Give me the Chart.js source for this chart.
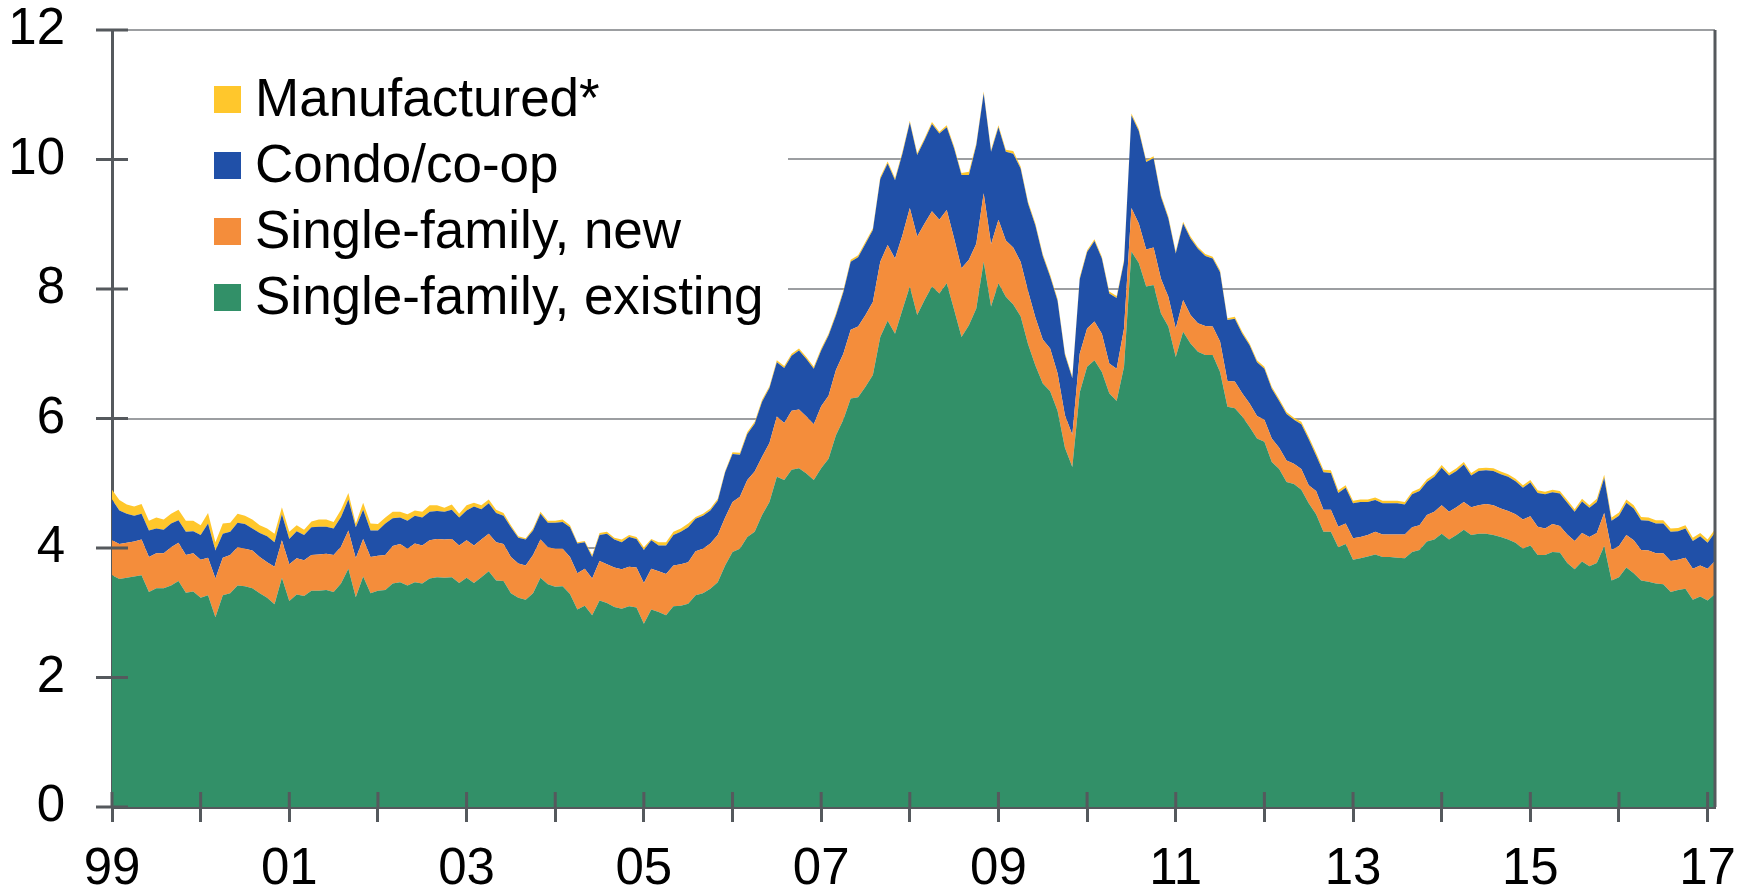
<!DOCTYPE html>
<html>
<head>
<meta charset="utf-8">
<script src="https://cdn.jsdelivr.net/npm/chart.js@4.4.1/dist/chart.umd.min.js"></script>
<style>
  html, body { margin: 0; padding: 0; background: #fff; }
  #wrap { width: 1752px; height: 892px; }
</style>
</head>
<body>
<div id="wrap"><canvas id="grafico" width="1752" height="892"></canvas></div>
<script>
// Dados mensais, jan/1999 a fev/2017 (valores empilhados)
const anoInicial = 1999;
const rotulosAno = ["99", "01", "03", "05", "07", "09", "11", "13", "15", "17"];
const valoresEixoY = [0, 2, 4, 6, 8, 10, 12];

const existente = [
  3.58,3.52,3.54,3.56,3.58,3.32,3.38,3.38,3.42,3.49,3.31,3.33,
  3.23,3.27,2.93,3.27,3.30,3.42,3.41,3.38,3.30,3.23,3.13,3.54,
  3.18,3.28,3.26,3.34,3.34,3.35,3.32,3.45,3.68,3.24,3.56,3.30,
  3.34,3.35,3.45,3.47,3.42,3.47,3.45,3.53,3.55,3.54,3.55,3.46,
  3.54,3.46,3.55,3.64,3.50,3.49,3.30,3.23,3.20,3.30,3.54,3.44,
  3.40,3.41,3.29,3.05,3.11,2.96,3.19,3.15,3.09,3.06,3.10,3.08,
  2.83,3.05,3.01,2.96,3.10,3.11,3.14,3.27,3.30,3.37,3.47,3.73,
  3.94,3.99,4.17,4.25,4.51,4.71,5.10,5.05,5.21,5.23,5.15,5.05,
  5.23,5.38,5.74,5.98,6.31,6.33,6.49,6.67,7.26,7.51,7.31,7.68,
  8.04,7.60,7.83,8.04,7.93,8.09,7.68,7.26,7.44,7.70,8.42,7.73,
  8.09,7.88,7.76,7.58,7.15,6.82,6.54,6.42,6.12,5.55,5.25,6.40,
  6.80,6.90,6.72,6.39,6.27,6.80,8.58,8.40,8.04,8.06,7.62,7.42,
  6.95,7.34,7.16,7.03,6.98,6.98,6.72,6.18,6.16,6.03,5.87,5.69,
  5.64,5.33,5.22,5.02,4.99,4.90,4.69,4.52,4.25,4.25,4.01,4.06,
  3.82,3.84,3.87,3.90,3.86,3.86,3.85,3.84,3.94,3.97,4.10,4.13,
  4.22,4.13,4.20,4.28,4.20,4.22,4.22,4.20,4.17,4.13,4.08,3.99,
  4.04,3.89,3.89,3.94,3.93,3.77,3.67,3.79,3.72,3.77,4.03,3.50,
  3.55,3.70,3.61,3.50,3.48,3.45,3.44,3.32,3.35,3.37,3.20,3.25,
  3.19,3.29
];

const novo = [
  0.54,0.54,0.54,0.54,0.55,0.54,0.54,0.54,0.59,0.59,0.58,0.59,
  0.59,0.58,0.60,0.58,0.59,0.59,0.58,0.58,0.56,0.55,0.58,0.58,
  0.57,0.56,0.55,0.55,0.56,0.56,0.57,0.57,0.59,0.60,0.58,0.56,
  0.54,0.54,0.58,0.59,0.57,0.60,0.59,0.59,0.59,0.59,0.59,0.58,
  0.58,0.58,0.58,0.58,0.59,0.57,0.56,0.53,0.53,0.59,0.59,0.57,
  0.59,0.58,0.57,0.56,0.57,0.57,0.61,0.60,0.61,0.61,0.61,0.62,
  0.63,0.63,0.63,0.64,0.63,0.64,0.64,0.68,0.69,0.70,0.73,0.74,
  0.77,0.80,0.88,0.93,0.90,0.91,0.93,0.88,0.91,0.91,0.88,0.86,
  0.96,0.97,1.01,1.02,1.06,1.09,1.11,1.13,1.16,1.17,1.16,1.15,
  1.21,1.21,1.18,1.16,1.14,1.13,1.10,1.06,1.01,1.00,1.06,0.96,
  0.98,0.87,0.88,0.84,0.82,0.74,0.68,0.66,0.58,0.50,0.50,0.60,
  0.59,0.60,0.59,0.46,0.50,0.59,0.67,0.61,0.57,0.58,0.54,0.46,
  0.44,0.49,0.44,0.44,0.45,0.44,0.47,0.40,0.41,0.36,0.36,0.35,
  0.34,0.36,0.33,0.33,0.31,0.32,0.28,0.36,0.34,0.34,0.32,0.32,
  0.33,0.33,0.33,0.35,0.35,0.35,0.36,0.37,0.38,0.38,0.41,0.43,
  0.44,0.43,0.43,0.43,0.43,0.44,0.46,0.46,0.44,0.44,0.44,0.45,
  0.45,0.44,0.41,0.43,0.41,0.44,0.44,0.44,0.45,0.46,0.51,0.47,
  0.48,0.50,0.51,0.47,0.48,0.47,0.48,0.48,0.47,0.48,0.48,0.48,
  0.49,0.51
];

const condominio = [
  0.63,0.52,0.45,0.40,0.40,0.41,0.38,0.36,0.37,0.35,0.36,0.34,
  0.38,0.53,0.43,0.37,0.36,0.38,0.38,0.34,0.37,0.40,0.38,0.40,
  0.39,0.42,0.39,0.43,0.43,0.42,0.41,0.46,0.48,0.48,0.45,0.41,
  0.39,0.49,0.43,0.41,0.43,0.43,0.43,0.44,0.43,0.43,0.45,0.43,
  0.46,0.60,0.47,0.47,0.45,0.44,0.46,0.40,0.40,0.38,0.40,0.38,
  0.40,0.41,0.46,0.46,0.41,0.33,0.40,0.47,0.43,0.42,0.46,0.44,
  0.51,0.44,0.40,0.44,0.47,0.50,0.54,0.50,0.51,0.51,0.53,0.70,
  0.74,0.65,0.71,0.74,0.85,0.85,0.84,0.85,0.85,0.91,0.89,0.86,
  0.86,0.93,0.84,0.95,1.05,1.07,1.10,1.11,1.28,1.26,1.21,1.26,
  1.32,1.26,1.29,1.35,1.33,1.28,1.39,1.44,1.31,1.52,1.54,1.43,
  1.43,1.37,1.45,1.44,1.35,1.42,1.29,1.11,1.12,0.93,0.87,1.15,
  1.18,1.24,1.16,1.08,1.09,1.03,1.43,1.43,1.35,1.38,1.26,1.21,
  1.16,1.18,1.18,1.15,1.08,1.05,1.07,0.94,0.97,0.92,0.90,0.83,
  0.79,0.77,0.72,0.72,0.68,0.69,0.71,0.55,0.58,0.57,0.52,0.55,
  0.54,0.54,0.51,0.49,0.48,0.48,0.48,0.46,0.51,0.53,0.51,0.54,
  0.58,0.56,0.56,0.58,0.49,0.53,0.52,0.53,0.53,0.53,0.51,0.49,
  0.52,0.52,0.53,0.49,0.50,0.49,0.45,0.49,0.45,0.48,0.54,0.45,
  0.47,0.50,0.49,0.46,0.46,0.46,0.46,0.45,0.44,0.45,0.43,0.45,
  0.40,0.44
];

const manufaturada = [
  0.15,0.16,0.14,0.14,0.15,0.15,0.17,0.16,0.15,0.16,0.17,0.16,
  0.15,0.16,0.13,0.16,0.14,0.14,0.13,0.14,0.12,0.12,0.13,0.11,
  0.11,0.09,0.08,0.09,0.11,0.11,0.10,0.11,0.10,0.06,0.11,0.11,
  0.10,0.09,0.10,0.09,0.10,0.08,0.09,0.10,0.09,0.06,0.08,0.06,
  0.08,0.06,0.06,0.06,0.05,0.04,0.03,0.02,0.02,0.03,0.03,0.03,
  0.03,0.04,0.03,0.02,0.02,0.03,0.03,0.03,0.03,0.04,0.03,0.03,
  0.04,0.02,0.05,0.05,0.05,0.05,0.06,0.03,0.03,0.03,0.03,0.02,
  0.03,0.03,0.03,0.03,0.03,0.03,0.03,0.03,0.03,0.03,0.03,0.03,
  0.03,0.03,0.03,0.03,0.03,0.03,0.03,0.03,0.03,0.03,0.03,0.03,
  0.03,0.03,0.03,0.03,0.03,0.03,0.03,0.03,0.05,0.03,0.03,0.03,
  0.03,0.03,0.04,0.03,0.03,0.03,0.03,0.03,0.03,0.03,0.03,0.03,
  0.03,0.03,0.03,0.03,0.03,0.03,0.03,0.03,0.03,0.03,0.03,0.03,
  0.03,0.03,0.03,0.03,0.03,0.03,0.03,0.03,0.03,0.03,0.03,0.03,
  0.03,0.03,0.03,0.03,0.03,0.04,0.04,0.04,0.04,0.04,0.04,0.04,
  0.04,0.04,0.04,0.04,0.04,0.04,0.04,0.04,0.04,0.04,0.04,0.04,
  0.04,0.04,0.04,0.04,0.04,0.04,0.04,0.04,0.04,0.04,0.04,0.04,
  0.04,0.04,0.04,0.04,0.04,0.04,0.04,0.04,0.04,0.05,0.05,0.05,
  0.05,0.05,0.05,0.05,0.05,0.05,0.05,0.05,0.05,0.05,0.05,0.05,
  0.05,0.05
];

const nomesSeries = ["Single-family, existing", "Single-family, new", "Condo/co-op", "Manufactured*"];
const coresSeries = ["#329068", "#F48D3B", "#2050A8", "#FFC72C"];

// Rótulos mensais do eixo X
const mesesNomes = ["Jan","Feb","Mar","Apr","May","Jun","Jul","Aug","Sep","Oct","Nov","Dec"];
const rotulos = existente.map((_, i) => mesesNomes[i % 12] + " " + (anoInicial + Math.floor(i / 12)));

const fonte = '"Liberation Sans", Arial, sans-serif';
const corEixo = "#55595d";
const corGrade = "#9c9ea1";

// Legenda desenhada dentro da área do gráfico, com fundo branco sobre a grade
const legendaInterna = {
    id: "legendaInterna",
    beforeDatasetsDraw(chart) {
        const ctx = chart.ctx;
        const area = chart.chartArea;
        ctx.save();
        ctx.fillStyle = "#fff";
        ctx.fillRect(area.left + 2, 42, 786 - area.left, 292);
        ctx.font = "53px " + fonte;
        ctx.textBaseline = "middle";
        // ordem da legenda: de cima para baixo
        for (let i = 0; i < 4; i++) {
            const k = 3 - i;
            const yc = 99 + i * 66;
            ctx.fillStyle = coresSeries[k];
            ctx.fillRect(214, yc - 13, 27, 27);
            ctx.fillStyle = "#000";
            ctx.fillText(nomesSeries[k], 255, yc + 2);
        }
        ctx.restore();
    }
};

// Marcas dos eixos que cruzam a linha e borda direita
const marcasEixos = {
    id: "marcasEixos",
    afterDatasetsDraw(chart) {
        const ctx = chart.ctx;
        const area = chart.chartArea;
        const sx = chart.scales.x;
        const sy = chart.scales.y;
        ctx.save();
        ctx.strokeStyle = corEixo;
        ctx.lineWidth = 3;
        ctx.beginPath();
        ctx.moveTo(area.right, area.top);
        ctx.lineTo(area.right, area.bottom);
        for (let i = 0; i < rotulos.length; i += 12) {
            const px = sx.getPixelForValue(i);
            ctx.moveTo(px, area.bottom);
            ctx.lineTo(px, area.bottom - 15);
        }
        valoresEixoY.forEach(v => {
            const py = sy.getPixelForValue(v);
            ctx.moveTo(area.left - 16, py);
            ctx.lineTo(area.left + 16, py);
        });
        ctx.stroke();
        ctx.restore();
    }
};

const series = [existente, novo, condominio, manufaturada];

const ctxGrafico = document.getElementById("grafico").getContext("2d");
const grafico = new Chart(ctxGrafico, {
    type: "line",
    data: {
        labels: rotulos,
        datasets: series.map((dados, i) => ({
            label: nomesSeries[i],
            data: dados,
            backgroundColor: coresSeries[i],
            borderColor: coresSeries[i],
            borderWidth: 0,
            pointRadius: 0,
            tension: 0,
            fill: i === 0 ? "origin" : "-1"
        }))
    },
    options: {
        responsive: false,
        animation: false,
        devicePixelRatio: 1,
        layout: { padding: { top: 30, right: 37, left: 0, bottom: 0 } },
        plugins: {
            legend: { display: false },
            tooltip: { enabled: false }
        },
        scales: {
            x: {
                type: "category",
                offset: false,
                afterFit(scale) { scale.height = 85; },
                border: { display: true, color: corEixo, width: 3 },
                grid: {
                    drawOnChartArea: false,
                    drawTicks: true,
                    tickLength: 15,
                    tickWidth: 3,
                    tickColor: (c) => (c.index % 12 === 0 ? corEixo : "rgba(0,0,0,0)")
                },
                ticks: {
                    autoSkip: false,
                    maxRotation: 0,
                    minRotation: 0,
                    padding: 22,
                    color: "#000",
                    font: { family: fonte, size: 51, lineHeight: 1 },
                    callback: (v, i) => (i % 24 === 0 ? rotulosAno[i / 24] : "")
                }
            },
            y: {
                stacked: true,
                min: 0,
                max: 12,
                afterFit(scale) { scale.width = 112; },
                border: { display: true, color: corEixo, width: 3 },
                grid: {
                    color: corGrade,
                    lineWidth: 2,
                    tickLength: 47,
                    tickColor: "rgba(0,0,0,0)"
                },
                ticks: {
                    stepSize: 2,
                    padding: 0,
                    color: "#000",
                    font: { family: fonte, size: 51, lineHeight: 1 }
                }
            }
        }
    },
    plugins: [legendaInterna, marcasEixos]
});
</script>
</body>
</html>
